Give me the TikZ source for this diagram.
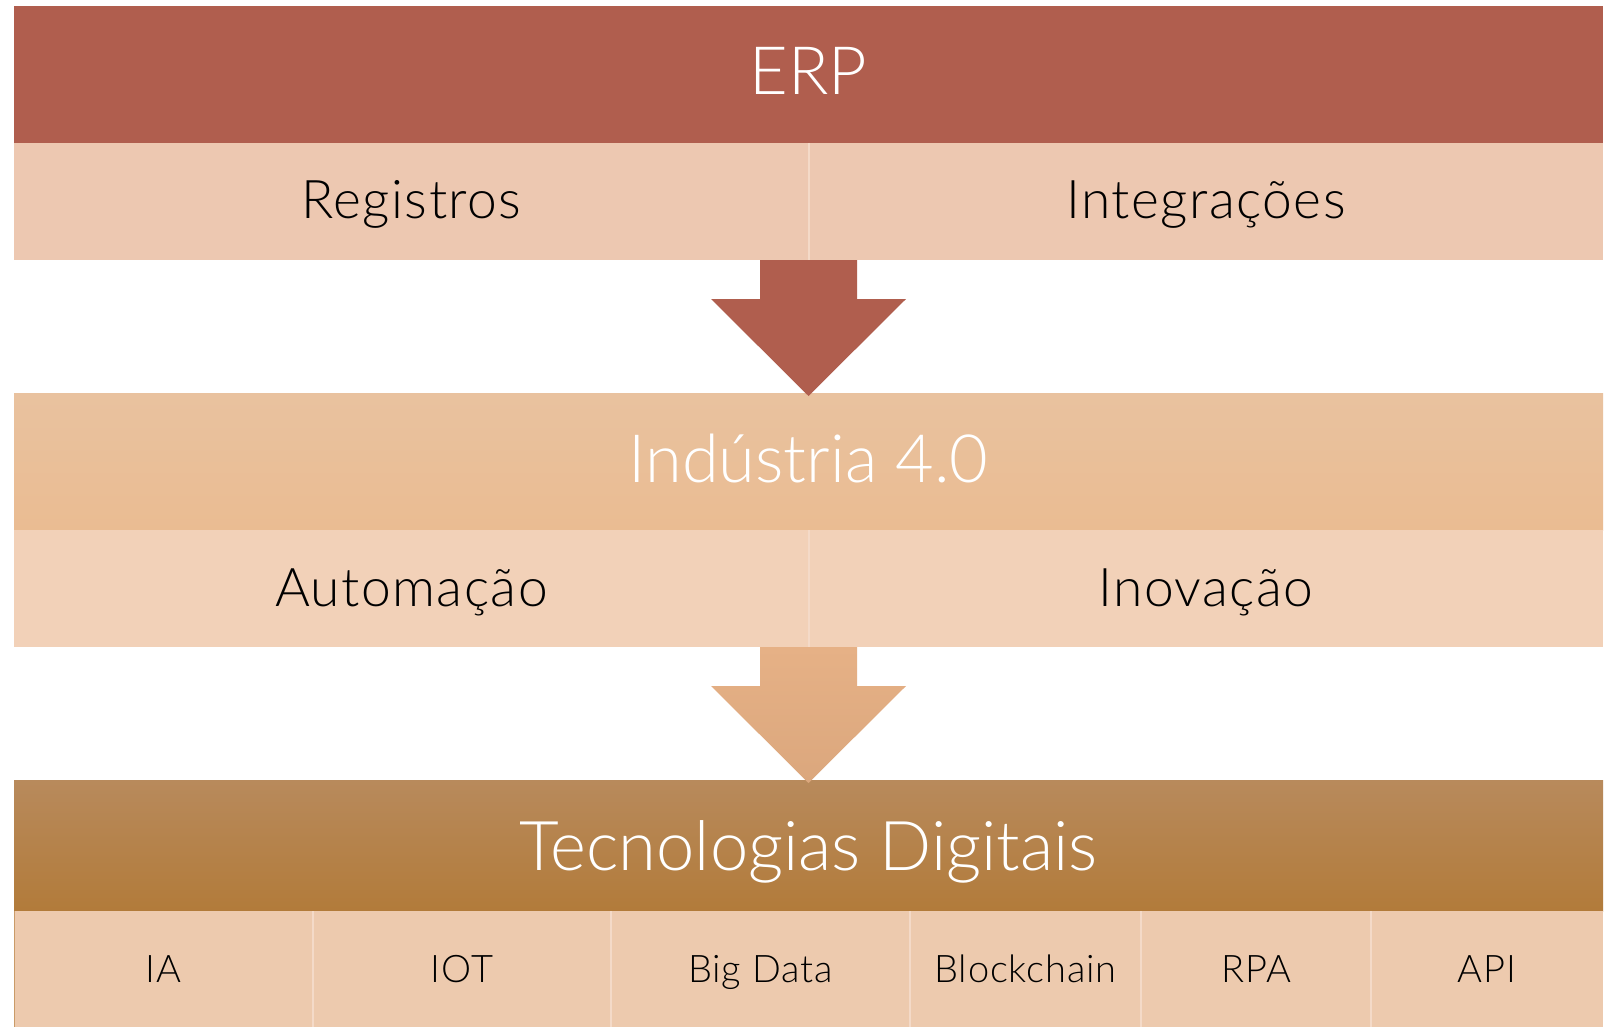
\documentclass[tikz,border=0pt]{standalone}
\usepackage{fontspec}
\setmainfont{Lato}
\newfontfamily\lightfont{Lato Light}
\newfontfamily\subfont{Lato Light}[LetterSpace=2.7]
\newfontfamily\cellfont{Lato Light}[LetterSpace=2.3]
\definecolor{erpc}{HTML}{B05E4E}
\definecolor{rowa}{HTML}{EDC8B1}
\definecolor{indtop}{HTML}{E9C29F}
\definecolor{indbot}{HTML}{EABC92}
\definecolor{rowb}{HTML}{F2D1B8}
\definecolor{arrtop}{HTML}{E6B186}
\definecolor{arrbot}{HTML}{DBA77D}
\definecolor{tectop}{HTML}{B88A5C}
\definecolor{tecbot}{HTML}{B27B3A}
\definecolor{rowc}{HTML}{EDCAAE}
\definecolor{divc}{HTML}{F4DAC8}
\begin{document}
\begin{tikzpicture}[x=0.75pt,y=-0.75pt,
  head/.style={text=white,font=\lightfont\fontsize{50}{50}\selectfont,anchor=base,inner sep=0pt},
  sub/.style={text=black,font=\subfont\fontsize{40}{40}\selectfont,anchor=base,inner sep=0pt},
  cell/.style={text=black,font=\cellfont\fontsize{28.5}{28.5}\selectfont,anchor=base,inner sep=0pt},
  divider/.style={draw=divc,line width=0.8pt}]
\useasboundingbox (0,0) rectangle (1614,1027);
\fill[white] (0,0) rectangle (1614,1027);
% ERP band
\fill[erpc] (14,6) rectangle (1603,143);
\fill[rowa] (14,143) rectangle (1603,260);
\draw[divider] (809,143) -- (809,260);
% Industria band
\shade[top color=indtop,bottom color=indbot] (14,393) rectangle (1603,530);
\fill[rowb] (14,530) rectangle (1603,647);
\draw[divider] (809,530) -- (809,647);
% Tecnologias band
\shade[top color=tectop,bottom color=tecbot] (14,780) rectangle (1603,911);
\fill[rowc] (14,911) rectangle (1603,1027);
\foreach \xx in {313,611,910,1141,1371}{\draw[divider] (\xx,911) -- (\xx,1027);}
\draw[draw=tecbot!60!rowc,line width=0.8pt] (14.4,911) -- (14.4,1027);
% arrows
\coordinate (a1) at (760,260); \coordinate (a2) at (857,260);
\coordinate (a3) at (857,299); \coordinate (a4) at (906,299);
\coordinate (a5) at (808.5,396); \coordinate (a6) at (711,299);
\coordinate (a7) at (760,299);
\fill[erpc] (a1) -- (a2) -- (a3) -- (a4) -- (a5) -- (a6) -- (a7) -- cycle;
\coordinate (b1) at (760,647); \coordinate (b2) at (857,647);
\coordinate (b3) at (857,686); \coordinate (b4) at (906,686);
\coordinate (b5) at (808.5,783); \coordinate (b6) at (711,686);
\coordinate (b7) at (760,686);
\shade[top color=arrtop,bottom color=arrbot] (b1) -- (b2) -- (b3) -- (b4) -- (b5) -- (b6) -- (b7) -- cycle;
% texts
\node[head] (erp) at (808.5,95) {ERP};
\node[sub] (reg) at (411.5,219) {Registros};
\node[sub] (int) at (1206,219) {Integrações};
\node[head] (ind) at (808.5,482) {Indústria 4.0};
\node[sub] (aut) at (411.5,606) {Automação};
\node[sub] (ino) at (1206,606) {Inovação};
\node[head,font=\lightfont\fontsize{51.5}{51.5}\selectfont] (tec) at (808.5,870) {Tecnologias Digitais};
\node[cell] (ia) at (163.5,982) {IA};
\node[cell] (iot) at (462,982) {IOT};
\node[cell] (bd) at (760.5,982) {Big Data};
\node[cell] (bc) at (1025.5,982) {Blockchain};
\node[cell] (rpa) at (1256,982) {RPA};
\node[cell] (api) at (1487,982) {API};
\end{tikzpicture}
\end{document}
